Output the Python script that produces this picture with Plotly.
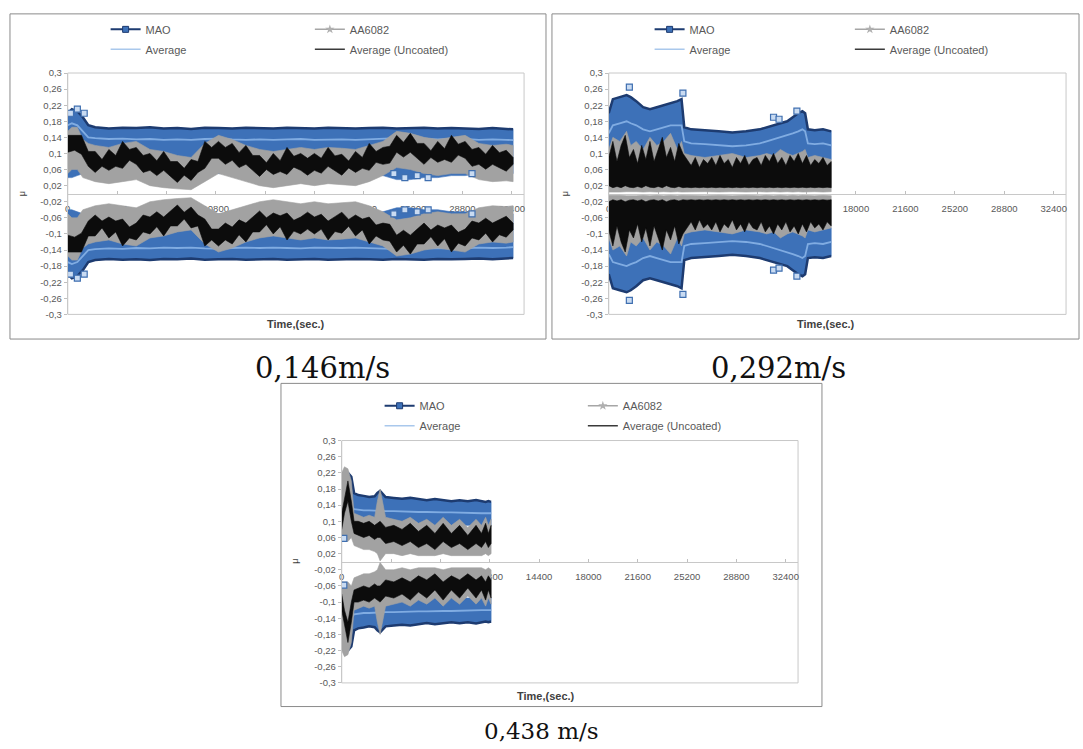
import plotly.graph_objects as go

W, H = 1083, 749

# ---------------- data ----------------
series_names = ["MAO", "AA6082", "Average", "Average (Uncoated)"]
captions = ["0,146m/s", "0,292m/s", "0,438 m/s"]
x_title = "Time,(sec.)"
y_title = "μ"

x_tickvals = [0, 3600, 7200, 10800, 14400, 18000, 21600, 25200, 28800, 32400]
x_ticktext = ["0", "3600", "7200", "10800", "14400", "18000", "21600", "25200", "28800", "32400"]
y_tickvals = [0.3, 0.26, 0.22, 0.18, 0.14, 0.1, 0.06, 0.02, -0.02, -0.06, -0.1, -0.14, -0.18, -0.22, -0.26, -0.3]
y_ticktext = ["0,3", "0,26", "0,22", "0,18", "0,14", "0,1", "0,06", "0,02", "-0,02", "-0,06", "-0,1", "-0,14", "-0,18", "-0,22", "-0,26", "-0,3"]

# Panel 1 : 0,146 m/s  (positive-side envelopes; the negative side mirrors them)
t1 = [0, 300, 700, 1100, 1500, 2000, 3000, 4000, 5000, 6000, 7000, 8000, 9000, 10000, 11000, 12000, 13000,
      14000, 15000, 16000, 17000, 18000, 19000, 20000, 21000, 22000, 23000, 24000, 25000, 26000, 27000, 28000,
      29000, 30000, 31000, 32000, 32500]
mao1_hi = [0.20, 0.21, 0.205, 0.19, 0.17, 0.165, 0.162, 0.164, 0.163, 0.165, 0.162, 0.163, 0.161, 0.164, 0.163,
           0.162, 0.164, 0.163, 0.162, 0.164, 0.163, 0.162, 0.164, 0.163, 0.162, 0.163, 0.164, 0.162, 0.163, 0.164,
           0.162, 0.163, 0.162, 0.161, 0.163, 0.162, 0.16]
mao1_lo = [0.04, 0.04, 0.045, 0.05, 0.05, 0.05, 0.05, 0.05, 0.05, 0.05, 0.05, 0.05, 0.05, 0.05, 0.05, 0.05, 0.05,
           0.05, 0.05, 0.05, 0.05, 0.05, 0.05, 0.05, 0.05, 0.05, 0.045, 0.035, 0.035, 0.04, 0.04, 0.045, 0.045,
           0.05, 0.05, 0.05, 0.05]
avg1 = [0.17, 0.175, 0.17, 0.155, 0.14, 0.138, 0.136, 0.137, 0.135, 0.136, 0.134, 0.135, 0.134, 0.136, 0.137,
        0.135, 0.134, 0.135, 0.134, 0.135, 0.136, 0.134, 0.135, 0.135, 0.134, 0.135, 0.136, 0.138, 0.137, 0.136,
        0.135, 0.136, 0.136, 0.134, 0.135, 0.134, 0.133]
aa1_hi = [0.155, 0.165, 0.165, 0.135, 0.125, 0.12, 0.115, 0.125, 0.13, 0.11, 0.105, 0.095, 0.09, 0.125, 0.145,
          0.135, 0.12, 0.11, 0.105, 0.11, 0.115, 0.11, 0.115, 0.113, 0.11, 0.12, 0.13, 0.155, 0.15, 0.14, 0.135,
          0.14, 0.145, 0.125, 0.12, 0.123, 0.12]
aa1_lo = [0.05, 0.06, 0.06, 0.04, 0.035, 0.03, 0.025, 0.03, 0.035, 0.02, 0.015, 0.012, 0.01, 0.03, 0.05, 0.04,
          0.03, 0.02, 0.015, 0.02, 0.025, 0.02, 0.025, 0.022, 0.02, 0.03, 0.045, 0.065, 0.06, 0.05, 0.045, 0.05,
          0.05, 0.035, 0.03, 0.032, 0.03]
tb1 = [0, 500, 1000, 1500, 2000, 2500, 3000, 3500, 4000, 4500, 5000, 5500, 6000, 6500, 7000, 7500, 8000, 8500,
       9000, 9500, 10000, 10500, 11000, 11500, 12000, 12500, 13000, 13500, 14000, 14500, 15000, 15500, 16000,
       16500, 17000, 17500, 18000, 18500, 19000, 19500, 20000, 20500, 21000, 21500, 22000, 22500, 23000, 23500,
       24000, 24500, 25000, 25500, 26000, 26500, 27000, 27500, 28000, 28500, 29000, 29500, 30000, 30500, 31000,
       31500, 32000, 32500]
unc1_hi = [0.145, 0.145, 0.145, 0.105, 0.105, 0.085, 0.11, 0.095, 0.13, 0.11,
           0.115, 0.095, 0.10, 0.082, 0.105, 0.08, 0.08, 0.063, 0.085, 0.08,
           0.13, 0.115, 0.13, 0.115, 0.125, 0.102, 0.12, 0.095, 0.095, 0.077,
           0.10, 0.082, 0.115, 0.093, 0.10, 0.088, 0.10, 0.088, 0.115, 0.094,
           0.098, 0.081, 0.105, 0.09, 0.125, 0.105, 0.115, 0.118, 0.145, 0.128,
           0.15, 0.125, 0.125, 0.107, 0.13, 0.112, 0.145, 0.123, 0.13, 0.11,
           0.115, 0.098, 0.12, 0.102, 0.108, 0.09]
unc1_lo = [0.103, 0.108, 0.098, 0.068, 0.053, 0.068, 0.058, 0.068, 0.063, 0.083,
           0.073, 0.053, 0.058, 0.045, 0.058, 0.043, 0.028, 0.046, 0.033, 0.053,
           0.063, 0.088, 0.088, 0.073, 0.083, 0.065, 0.073, 0.058, 0.043, 0.06,
           0.048, 0.055, 0.048, 0.066, 0.058, 0.046, 0.058, 0.051, 0.068, 0.057,
           0.046, 0.064, 0.053, 0.063, 0.058, 0.078, 0.073, 0.076, 0.103, 0.091,
           0.103, 0.088, 0.073, 0.09, 0.078, 0.085, 0.078, 0.096, 0.088, 0.068,
           0.073, 0.061, 0.073, 0.065, 0.056, 0.073]
pk1_t = [200, 700, 1200, 23800, 24600, 25500, 26300, 29500]
pk1_v = [0.2, 0.21, 0.2, 0.05, 0.04, 0.045, 0.04, 0.05]

# Panel 2 : 0,292 m/s
t2 = [0, 300, 800, 1300, 1600, 2000, 2500, 3000, 3500, 4000, 4500, 5000, 5300, 5500, 6000, 7000, 8000, 9000,
      10000, 11000, 11500, 12000, 12500, 13000, 13400, 13800, 14100, 14300, 14500, 15000, 15600, 16200]
mao2_hi = [0.20, 0.235, 0.24, 0.245, 0.24, 0.23, 0.215, 0.21, 0.215, 0.22, 0.225, 0.23, 0.235, 0.165, 0.16, 0.158,
           0.155, 0.152, 0.155, 0.16, 0.165, 0.17, 0.175, 0.18, 0.19, 0.2, 0.205, 0.2, 0.16, 0.158, 0.16, 0.155]
mao2_lo = [0.07, 0.07, 0.07, 0.07, 0.07, 0.07, 0.07, 0.07, 0.07, 0.07, 0.07, 0.07, 0.07, 0.085, 0.085, 0.085,
           0.085, 0.085, 0.085, 0.085, 0.085, 0.085, 0.085, 0.085, 0.085, 0.085, 0.085, 0.085, 0.085, 0.085, 0.085,
           0.085]
avg2 = [0.15, 0.17, 0.175, 0.18, 0.175, 0.17, 0.16, 0.155, 0.16, 0.165, 0.17, 0.17, 0.17, 0.13, 0.125, 0.123,
        0.12, 0.118, 0.12, 0.125, 0.13, 0.135, 0.14, 0.145, 0.15, 0.155, 0.16, 0.155, 0.125, 0.123, 0.125, 0.12]
aa2_hi = [0.11, 0.14, 0.13, 0.155, 0.12, 0.13, 0.11, 0.14, 0.12, 0.13, 0.15, 0.11, 0.13, 0.10, 0.095, 0.09, 0.095,
          0.10, 0.09, 0.095, 0.10, 0.095, 0.11, 0.10, 0.095, 0.10, 0.105, 0.11, 0.09, 0.095, 0.09, 0.085]
aa2_lo = [0.004, 0.005, 0.004, 0.005, 0.004, 0.005, 0.004, 0.005, 0.004, 0.005, 0.004, 0.005, 0.004, 0.005,
          0.004, 0.005, 0.004, 0.005, 0.004, 0.005, 0.004, 0.005, 0.004, 0.005, 0.004, 0.005, 0.004, 0.005,
          0.004, 0.005, 0.004, 0.005]
tb2 = [0, 300, 600, 900, 1200, 1500, 1800, 2100, 2400, 2700, 3000, 3300, 3600, 3900, 4200, 4500, 4800, 5100,
       5400, 5700, 6000, 6300, 6600, 6900, 7200, 7500, 7800, 8100, 8400, 8700, 9000, 9300, 9600, 9900, 10200,
       10500, 10800, 11100, 11400, 11700, 12000, 12300, 12600, 12900, 13200, 13500, 13800, 14100, 14400, 14700,
       15000, 15300, 15600, 15900, 16200]
unc2_hi = [0.09, 0.13, 0.08, 0.12, 0.145, 0.09, 0.11, 0.075, 0.12, 0.085, 0.13, 0.08, 0.11, 0.14, 0.09, 0.115,
           0.08, 0.125, 0.10, 0.085, 0.07, 0.09, 0.065, 0.085, 0.075, 0.09, 0.07, 0.095, 0.075, 0.085, 0.065, 0.09,
           0.075, 0.095, 0.07, 0.085, 0.09, 0.07, 0.095, 0.08, 0.10, 0.075, 0.09, 0.07, 0.095, 0.08, 0.10, 0.075,
           0.095, 0.07, 0.085, 0.075, 0.09, 0.07, 0.08]
unc2_lo = [0.02, 0.015, 0.018, 0.015, 0.02, 0.016, 0.015, 0.018, 0.015, 0.02, 0.016, 0.015, 0.018, 0.015, 0.02,
           0.016, 0.015, 0.018, 0.015, 0.016, 0.015, 0.016, 0.015, 0.016, 0.015, 0.016, 0.015, 0.016, 0.015,
           0.016, 0.015, 0.016, 0.015, 0.016, 0.015, 0.016, 0.015, 0.016, 0.015, 0.016, 0.015, 0.016, 0.015,
           0.016, 0.015, 0.016, 0.015, 0.016, 0.015, 0.016, 0.015, 0.016, 0.015, 0.016, 0.015]
pk2_t = [1500, 5400, 12000, 12400, 13700]
pk2_v = [0.265, 0.25, 0.19, 0.185, 0.205]

# Panel 3 : 0,438 m/s
t3 = [0, 200, 450, 700, 900, 1200, 1600, 2000, 2400, 2600, 2800, 3200, 3800, 4400, 5000, 5600, 6200, 6800,
      7400, 8000, 8600, 9200, 9800, 10200, 10500, 10700, 10900]
mao3_hi = [0.20, 0.22, 0.22, 0.21, 0.17, 0.165, 0.163, 0.16, 0.162, 0.17, 0.175, 0.16, 0.158, 0.156, 0.158,
           0.155, 0.152, 0.155, 0.153, 0.15, 0.152, 0.15, 0.153, 0.15, 0.148, 0.15, 0.148]
mao3_lo = [0.05, 0.06, 0.06, 0.07, 0.08, 0.08, 0.08, 0.08, 0.08, 0.08, 0.08, 0.08, 0.08, 0.085, 0.085, 0.085,
           0.085, 0.085, 0.09, 0.09, 0.09, 0.09, 0.09, 0.09, 0.09, 0.09, 0.09]
avg3 = [0.15, 0.17, 0.16, 0.14, 0.13, 0.128, 0.127, 0.127, 0.126, 0.126, 0.125, 0.125, 0.125, 0.124, 0.124,
        0.123, 0.123, 0.122, 0.122, 0.122, 0.121, 0.121, 0.12, 0.12, 0.12, 0.12, 0.12]
aa3_hi = [0.22, 0.235, 0.23, 0.2, 0.12, 0.115, 0.11, 0.115, 0.11, 0.15, 0.18, 0.11, 0.105, 0.1, 0.11, 0.095,
          0.105, 0.09, 0.11, 0.09, 0.105, 0.085, 0.105, 0.09, 0.11, 0.09, 0.105]
aa3_lo = [0.05, 0.05, 0.05, 0.06, 0.04, 0.035, 0.03, 0.03, 0.025, 0.02, 0.002, 0.02, 0.02, 0.015, 0.02, 0.015,
          0.015, 0.015, 0.02, 0.015, 0.015, 0.015, 0.015, 0.015, 0.02, 0.015, 0.02]
tb3 = t3
unc3_hi = [0.12, 0.16, 0.2, 0.15, 0.1, 0.1, 0.095, 0.1, 0.09, 0.095, 0.1, 0.085, 0.09, 0.08, 0.095, 0.075, 0.09,
           0.07, 0.095, 0.07, 0.09, 0.065, 0.09, 0.07, 0.095, 0.07, 0.09]
unc3_lo = [0.08, 0.12, 0.15, 0.1, 0.07, 0.065, 0.06, 0.065, 0.055, 0.06, 0.06, 0.045, 0.05, 0.04, 0.05, 0.035,
           0.045, 0.03, 0.05, 0.035, 0.045, 0.03, 0.045, 0.035, 0.05, 0.035, 0.045]
pk3_t = [150]
pk3_v = [0.058]

# ---------------- styling ----------------
C_MAO = "#3d71b8"
C_MAO_EDGE = "#1d3b70"
C_AVG = "#80ace2"
C_AA = "#a2a2a2"
C_UNC = "#0c0c0c"
TXT = "#595959"
FONT = "Liberation Sans"


def px(x):
    return x / W


def py(y):
    return 1 - y / H


panels = [
    dict(t=t1, mao_hi=mao1_hi, mao_lo=mao1_lo, avg=avg1, aa_hi=aa1_hi, aa_lo=aa1_lo, tb=tb1, unc_hi=unc1_hi,
         unc_lo=unc1_lo, pk_t=pk1_t, pk_v=pk1_v,
         plot=(65, 523, 68, 313), frame=(7, 8, 545, 338), leg=(103, 308, 9), title=(294, 323),
         mu=(19, 190), cap=(321, 367, 29)),
    dict(t=t2, mao_hi=mao2_hi, mao_lo=mao2_lo, avg=avg2, aa_hi=aa2_hi, aa_lo=aa2_lo, tb=tb2, unc_hi=unc2_hi,
         unc_lo=unc2_lo, pk_t=pk2_t, pk_v=pk2_v,
         plot=(608, 1067, 68, 313), frame=(551, 8, 1080, 338), leg=(649, 850, 9), title=(826, 323),
         mu=(564, 190), cap=(778, 367, 29)),
    dict(t=t3, mao_hi=mao3_hi, mao_lo=mao3_lo, avg=avg3, aa_hi=aa3_hi, aa_lo=aa3_lo, tb=tb3, unc_hi=unc3_hi,
         unc_lo=unc3_lo, pk_t=pk3_t, pk_v=pk3_v,
         plot=(340, 798, 441, 687), frame=(279, 383, 822, 711), leg=(378, 582, 391), title=(545, 700),
         mu=(293, 563), cap=(540, 736, 23)),
]

fig = go.Figure()
layout = dict(width=W, height=H, margin=dict(l=0, r=0, t=0, b=0), paper_bgcolor="white",
              plot_bgcolor="white", showlegend=True, shapes=[], annotations=[])


def band(t, lo, hi, sign, color, xa, ya):
    xs = list(t) + list(t[::-1])
    ys = [sign * v for v in hi] + [sign * v for v in lo[::-1]]
    return go.Scatter(x=xs, y=ys, fill="toself", fillcolor=color, mode="lines",
                      line=dict(width=0.6, color=color), hoverinfo="skip", showlegend=False,
                      xaxis=xa, yaxis=ya)


for i, p in enumerate(panels):
    n = i + 1
    xa = "x" if n == 1 else f"x{n}"
    ya = "y" if n == 1 else f"y{n}"
    t = p["t"]
    for s in (1, -1):
        fig.add_trace(band(t, p["mao_lo"], p["mao_hi"], s, C_MAO, xa, ya))
    for s in (1, -1):
        fig.add_trace(go.Scatter(x=t, y=[s * v for v in p["mao_hi"]], mode="lines",
                                 line=dict(color=C_MAO_EDGE, width=2.5), hoverinfo="skip",
                                 showlegend=False, xaxis=xa, yaxis=ya))
        fig.add_trace(go.Scatter(x=t, y=[s * v for v in p["avg"]], mode="lines",
                                 line=dict(color=C_AVG, width=1.8), hoverinfo="skip",
                                 showlegend=False, xaxis=xa, yaxis=ya))
    for s in (1, -1):
        fig.add_trace(band(t, p["aa_lo"], p["aa_hi"], s, C_AA, xa, ya))
    for s in (1, -1):
        fig.add_trace(band(p["tb"], p["unc_lo"], p["unc_hi"], s, C_UNC, xa, ya))
    for s in (1, -1):
        fig.add_trace(go.Scatter(x=p["pk_t"], y=[s * v for v in p["pk_v"]], mode="markers",
                                 marker=dict(symbol="square", size=6, color="#c9dbf2",
                                             line=dict(color="#3f6fb0", width=1.2)),
                                 hoverinfo="skip", showlegend=False, xaxis=xa, yaxis=ya))

    # legend proxies (two columns -> two legends per panel)
    k1 = 2 * i + 1
    k2 = 2 * i + 2
    l1 = "legend" if k1 == 1 else f"legend{k1}"
    l2 = f"legend{k2}"
    proxies = [
        (series_names[0], l1, dict(mode="lines+markers", line=dict(color=C_MAO_EDGE, width=2),
                                   marker=dict(symbol="square", size=6, color=C_MAO,
                                               line=dict(color=C_MAO_EDGE, width=1)))),
        (series_names[2], l1, dict(mode="lines", line=dict(color="#a9c8ec", width=1.5))),
        (series_names[1], l2, dict(mode="lines+markers", line=dict(color="#a6a6a6", width=1.5),
                                   marker=dict(symbol="star", size=7, color="#b0b0b0"))),
        (series_names[3], l2, dict(mode="lines", line=dict(color="#3a3a3a", width=1.5))),
    ]
    for name, lg, style in proxies:
        fig.add_trace(go.Scatter(x=[None], y=[None], name=name, legend=lg, legendgroup=f"{n}-{name}",
                                 xaxis=xa, yaxis=ya, hoverinfo="skip", **style))
    lx1, lx2, ly = p["leg"]
    for lg, lx in ((l1, lx1), (l2, lx2)):
        layout[lg] = dict(
            x=px(lx), y=py(ly), xanchor="left", yanchor="top", orientation="v",
            bgcolor="rgba(0,0,0,0)", borderwidth=0, itemwidth=30, traceorder="grouped",
            tracegroupgap=1, font=dict(family=FONT, size=11, color=TXT))

    x0, x1, y0, y1 = p["plot"]
    dom_y = [py(y1), py(y0)]
    layout["xaxis" if n == 1 else f"xaxis{n}"] = dict(
        domain=[px(x0), px(x1)], range=[0, 33300], anchor="free", position=(dom_y[0] + dom_y[1]) / 2,
        tickvals=x_tickvals, ticktext=x_ticktext, ticks="inside", ticklen=3, tickcolor="#bfbfbf",
        showline=True, linecolor="#c8c8c8", linewidth=1, showgrid=False, zeroline=False,
        tickfont=dict(family=FONT, size=9.5, color=TXT), ticklabelstandoff=6,
        layer="below traces", fixedrange=True)
    layout["yaxis" if n == 1 else f"yaxis{n}"] = dict(
        domain=dom_y, range=[-0.3, 0.3], anchor=xa, tickvals=y_tickvals, ticktext=y_ticktext,
        ticks="outside", ticklen=3, tickcolor="#bfbfbf", showline=True, linecolor="#c8c8c8",
        showgrid=False, zeroline=False, tickfont=dict(family=FONT, size=9.5, color=TXT),
        fixedrange=True)

    # plot-area border and chart frame
    layout["shapes"].append(dict(type="rect", xref=f"{xa} domain", yref=f"{ya} domain", x0=0, x1=1,
                                 y0=0, y1=1, line=dict(color="#c8c8c8", width=1), layer="below"))
    fx0, fy0, fx1, fy1 = p["frame"]
    layout["shapes"].append(dict(type="rect", xref="paper", yref="paper", x0=px(fx0), x1=px(fx1),
                                 y0=py(fy1), y1=py(fy0), line=dict(color="#8a8a8a", width=1)))

    tx, ty = p["title"]
    layout["annotations"].append(dict(text=x_title, xref="paper", yref="paper", x=px(tx), y=py(ty),
                                      showarrow=False, xanchor="center", yanchor="middle",
                                      font=dict(family=FONT, size=11, color="#404040", weight="bold")))
    mx, my = p["mu"]
    layout["annotations"].append(dict(text=y_title, xref="paper", yref="paper", x=px(mx), y=py(my),
                                      showarrow=False, textangle=-90, xanchor="center", yanchor="middle",
                                      font=dict(family=FONT, size=9, color="#404040")))
    cx, cy, cs = p["cap"]
    layout["annotations"].append(dict(text=captions[i], xref="paper", yref="paper", x=px(cx), y=py(cy),
                                      showarrow=False, xanchor="center", yanchor="middle",
                                      font=dict(family="DejaVu Serif", size=cs, color="#111111")))

fig.update_layout(**layout)
fig.write_html("out.html", config={"displayModeBar": False},
               post_script="document.body.style.margin='0px';")
